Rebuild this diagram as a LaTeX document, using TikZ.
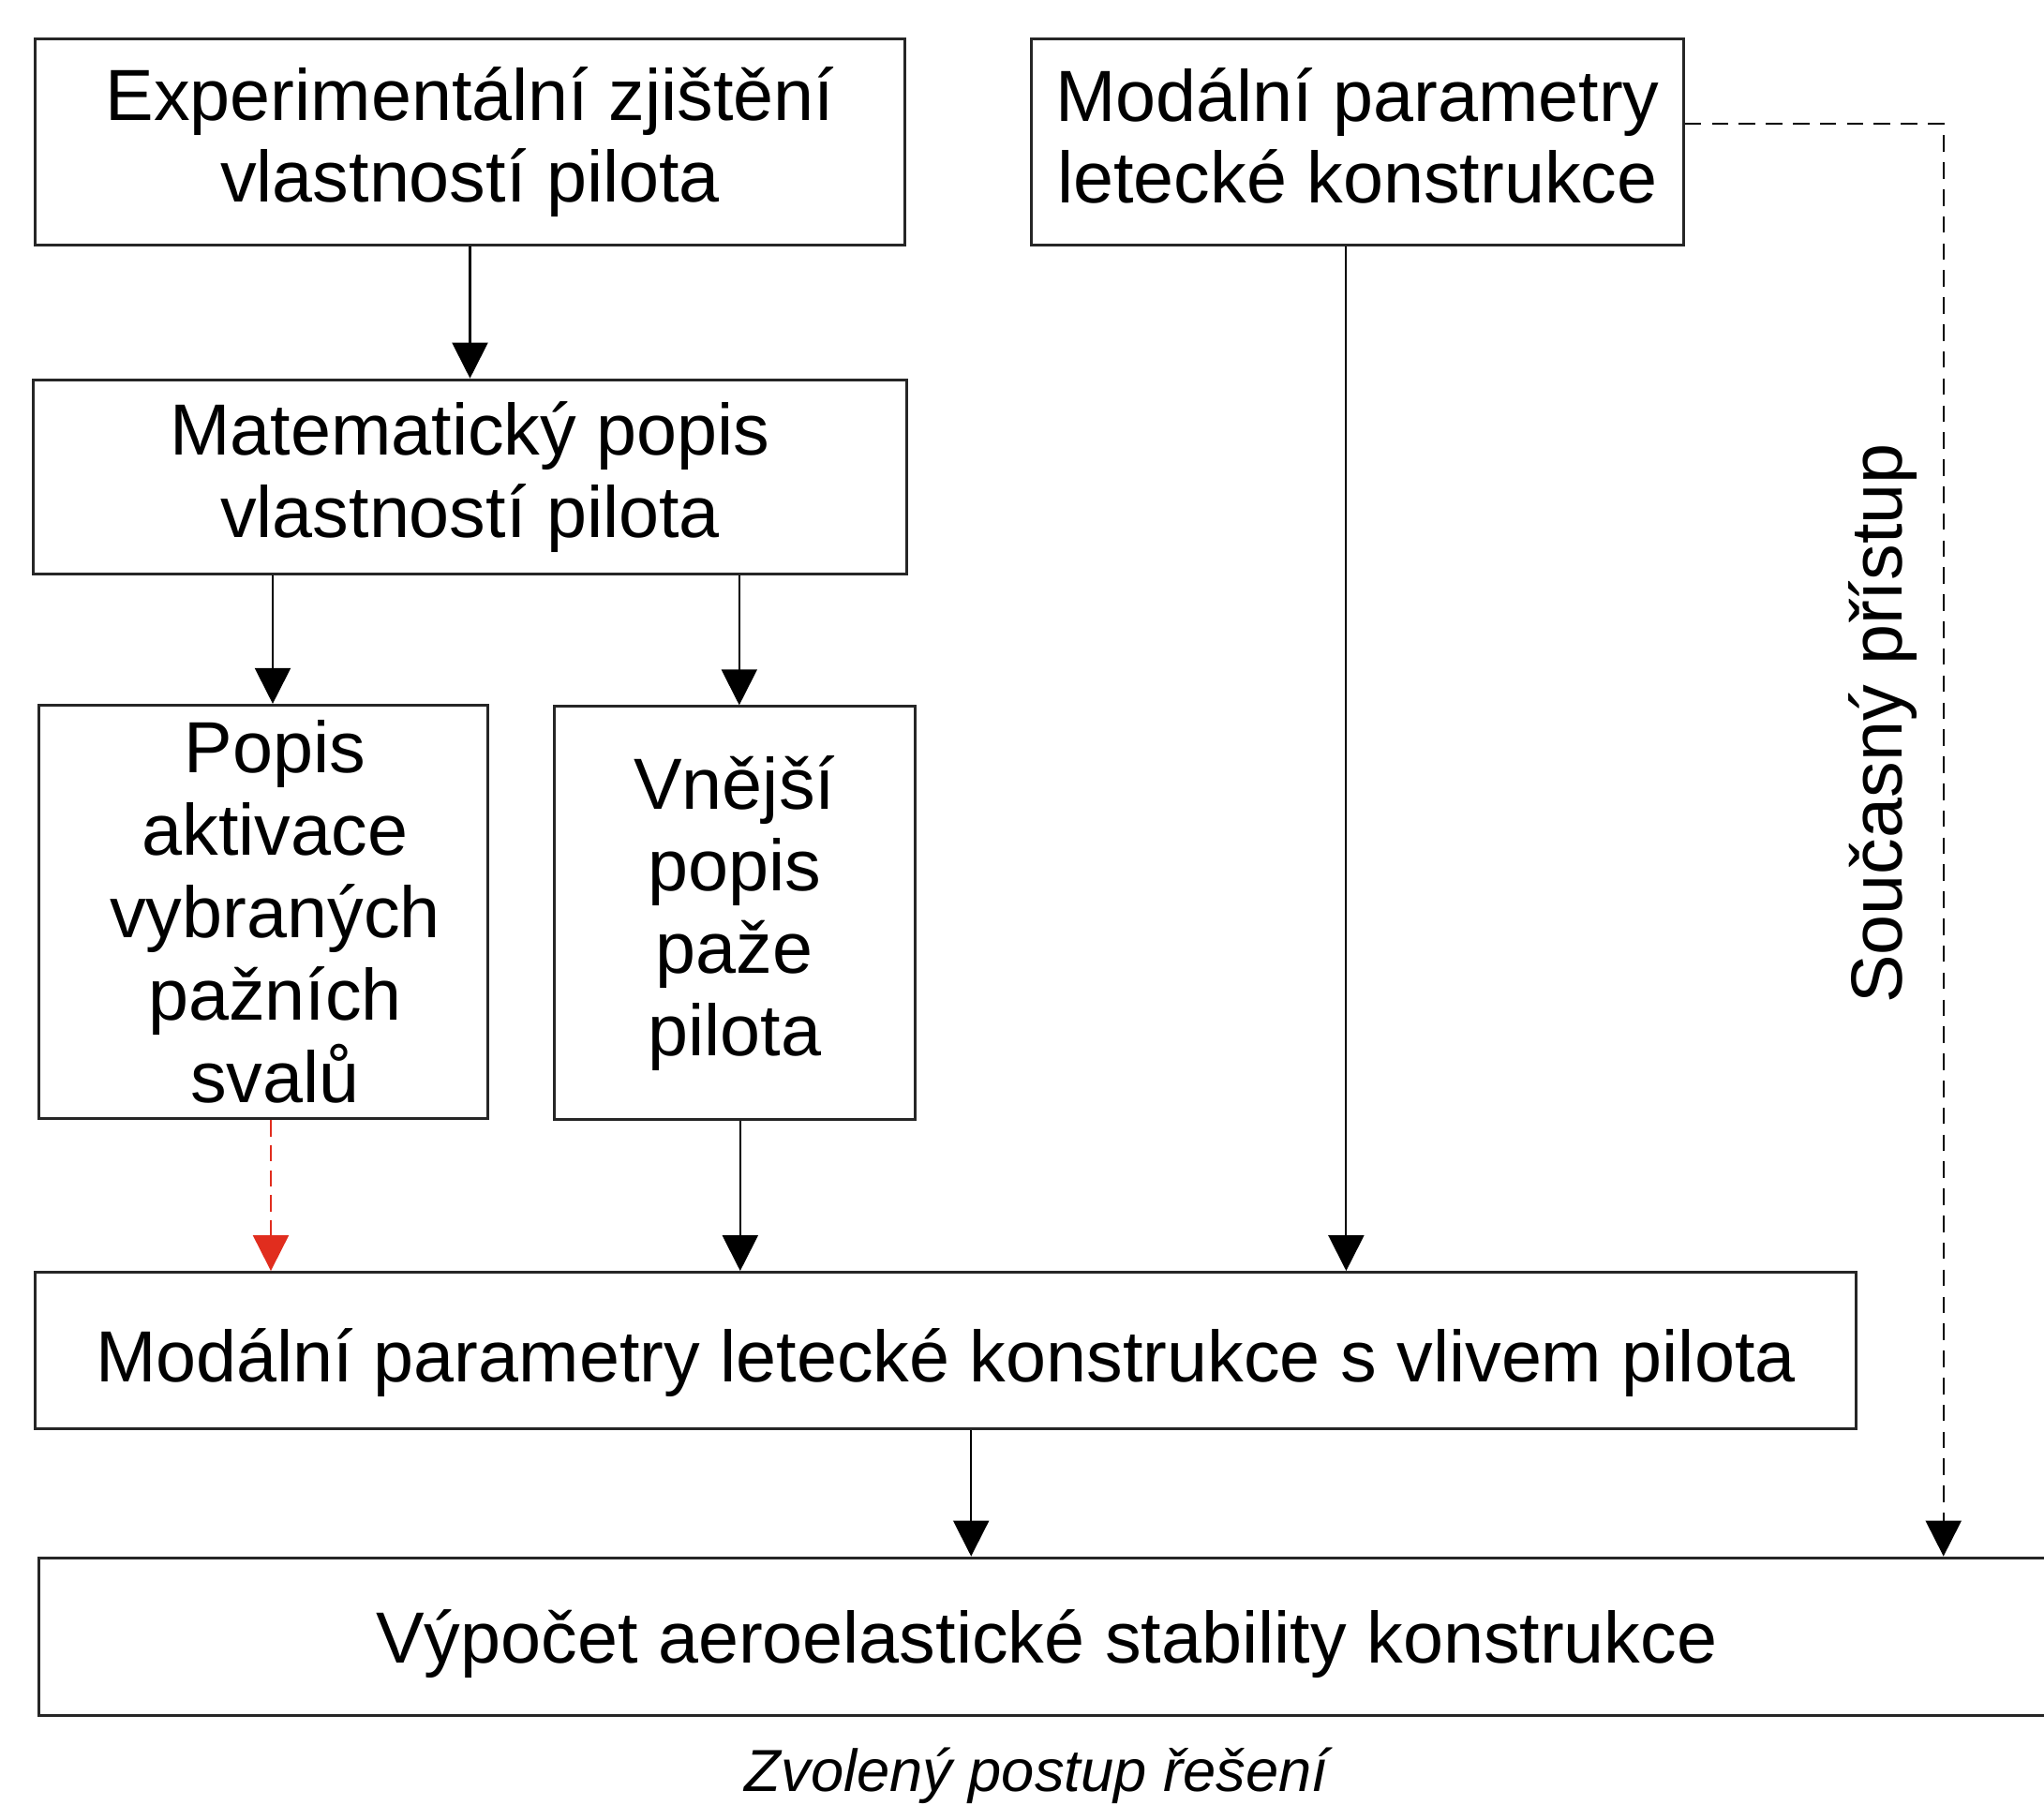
\documentclass[tikz,border=0pt]{standalone}
\usepackage{fontspec}
\setmainfont{Liberation Sans}
\usepackage{xcolor}
\usepackage{tikz}
\usetikzlibrary{arrows.meta,positioning}

\definecolor{flowred}{RGB}{225,45,30}

\begin{document}
\begin{tikzpicture}[
    stage/.style={rectangle, draw=black!85, line width=0.9pt, align=center, inner sep=2pt, font=\fontsize{22}{25}\selectfont},
    flow/.style={-{Triangle[width=3.8mm,length=3.8mm]}, line width=0.6pt, draw=black},
    redflow/.style={flow, draw=flowred, dash pattern=on 5pt off 2.6pt},
    linkflow/.style={flow, dash pattern=on 5pt off 3.2pt},
]
    \useasboundingbox (0,0) rectangle (21.81,-19.42);

    \node[stage, minimum width=9.28cm, minimum height=2.2cm] (b1) at (5.015,-1.516) {Experimentální zjištění\\vlastností pilota};
    \node[stage, minimum width=6.955cm, minimum height=2.2cm, text depth=4pt, right=1.32cm of b1] (b2) {Modální parametry\\letecké konstrukce};
    \node[stage, minimum width=9.32cm, minimum height=2.07cm, below=1.405cm of b1] (b3) {Matematický popis\\vlastností pilota};
    \node[stage, minimum width=4.785cm, minimum height=4.41cm] (b4) at (2.81,-9.73) {\hspace*{2.5mm}Popis\\\hspace*{2.5mm}aktivace\\\hspace*{2.5mm}vybraných\\\hspace*{2.5mm}pažních\\\hspace*{2.5mm}svalů};
    \node[stage, minimum width=3.853cm, minimum height=4.41cm] (b5) at (7.838,-9.744) {Vnější\\popis\\paže\\pilota};
    \node[stage, minimum width=19.432cm, minimum height=1.669cm, text height=24pt, text depth=5pt] (b6) at (10.092,-14.411) {Modální parametry letecké konstrukce s vlivem pilota};
    \node[stage, minimum width=21.5cm, minimum height=1.684cm, text height=21pt, text depth=5pt, anchor=west] (b7) at (0.403,-17.464) {Výpočet aeroelastické stability konstrukce};

    \node[rotate=90, font=\fontsize{22}{25}\selectfont] (approach) at (20.09,-7.72) {Současný přístup};
    \node[font=\fontsize{18}{22}\selectfont\itshape] (caption) at (11.06,-18.95) {Zvolený postup řešení};

    \draw[flow] (b1) -- (b3);
    \draw[flow] ([xshift=1mm]b4.north |- b3.south) -- ([xshift=1mm]b4.north);
    \draw[flow] ([xshift=0.5mm]b5.north |- b3.south) -- ([xshift=0.5mm]b5.north);
    \draw[redflow] ([xshift=0.8mm]b4.south) -- ([xshift=0.8mm]b4.south |- b6.north);
    \draw[flow] ([xshift=0.6mm]b5.south) -- ([xshift=0.6mm]b5.south |- b6.north);
    \draw[flow] ([xshift=-1.2mm]b2.south) -- ([xshift=-1.2mm]b2.south |- b6.north);
    \draw[flow] ([xshift=2.7mm]b6.south) -- ([xshift=2.7mm]b6.south |- b7.north);
    \draw[linkflow] ([yshift=1.95mm]b2.east) -- ++(2.76,0) coordinate (turn) -- (turn |- b7.north);
\end{tikzpicture}
\end{document}
